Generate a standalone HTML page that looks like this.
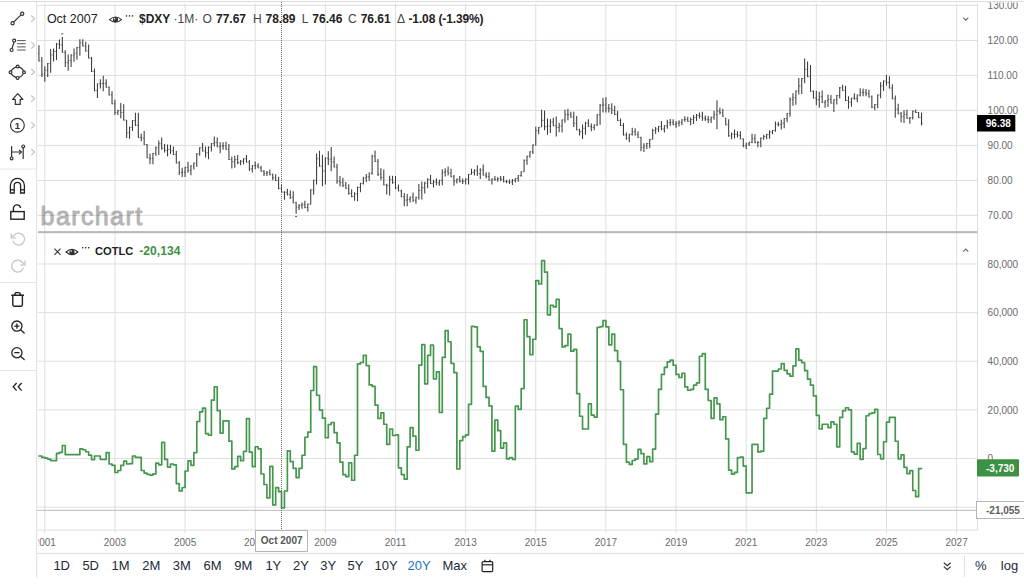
<!DOCTYPE html>
<html><head><meta charset="utf-8"><title>Chart</title>
<style>
html,body{margin:0;padding:0;background:#fff;}
body{width:1024px;height:588px;overflow:hidden;font-family:"Liberation Sans",sans-serif;}
svg{display:block;}
text{font-family:"Liberation Sans",sans-serif;}
</style></head><body>
<svg width="1024" height="588" viewBox="0 0 1024 588">
<rect width="1024" height="588" fill="#fff"/>
<g fill="none" stroke-width="1">
<line x1="0" y1="1.5" x2="1024" y2="1.5" stroke="#dcdcdc"/>
<line x1="44.8" y1="3" x2="44.8" y2="533.5" stroke="#dfdfdf"/>
<line x1="114.94" y1="3" x2="114.94" y2="533.5" stroke="#dfdfdf"/>
<line x1="185.08" y1="3" x2="185.08" y2="533.5" stroke="#dfdfdf"/>
<line x1="255.22" y1="3" x2="255.22" y2="533.5" stroke="#dfdfdf"/>
<line x1="325.36" y1="3" x2="325.36" y2="533.5" stroke="#dfdfdf"/>
<line x1="395.5" y1="3" x2="395.5" y2="533.5" stroke="#dfdfdf"/>
<line x1="465.64" y1="3" x2="465.64" y2="533.5" stroke="#dfdfdf"/>
<line x1="535.78" y1="3" x2="535.78" y2="533.5" stroke="#dfdfdf"/>
<line x1="605.92" y1="3" x2="605.92" y2="533.5" stroke="#dfdfdf"/>
<line x1="676.06" y1="3" x2="676.06" y2="533.5" stroke="#dfdfdf"/>
<line x1="746.2" y1="3" x2="746.2" y2="533.5" stroke="#dfdfdf"/>
<line x1="816.34" y1="3" x2="816.34" y2="533.5" stroke="#dfdfdf"/>
<line x1="886.48" y1="3" x2="886.48" y2="533.5" stroke="#dfdfdf"/>
<line x1="956.62" y1="3" x2="956.62" y2="533.5" stroke="#dfdfdf"/>
<line x1="37.5" y1="5.45" x2="977.5" y2="5.45" stroke="#dfdfdf" stroke-width="1"/>
<line x1="37.5" y1="40.45" x2="977.5" y2="40.45" stroke="#dfdfdf" stroke-width="1"/>
<line x1="37.5" y1="75.45" x2="977.5" y2="75.45" stroke="#dfdfdf" stroke-width="1"/>
<line x1="37.5" y1="110.45" x2="977.5" y2="110.45" stroke="#dfdfdf" stroke-width="1"/>
<line x1="37.5" y1="145.45" x2="977.5" y2="145.45" stroke="#dfdfdf" stroke-width="1"/>
<line x1="37.5" y1="180.45" x2="977.5" y2="180.45" stroke="#dfdfdf" stroke-width="1"/>
<line x1="37.5" y1="215.45" x2="977.5" y2="215.45" stroke="#dfdfdf" stroke-width="1"/>
<line x1="37.5" y1="263.96" x2="977.5" y2="263.96" stroke="#dfdfdf" stroke-width="1"/>
<line x1="37.5" y1="312.60" x2="977.5" y2="312.60" stroke="#dfdfdf" stroke-width="1"/>
<line x1="37.5" y1="361.23" x2="977.5" y2="361.23" stroke="#dfdfdf" stroke-width="1"/>
<line x1="37.5" y1="409.87" x2="977.5" y2="409.87" stroke="#dfdfdf" stroke-width="1"/>
<line x1="37.5" y1="458.50" x2="977.5" y2="458.50" stroke="#dfdfdf" stroke-width="1"/>
<line x1="37.5" y1="507.13" x2="977.5" y2="507.13" stroke="#dfdfdf" stroke-width="1"/>
<line x1="36.6" y1="1" x2="36.6" y2="578" stroke="#dfdfdf"/>
<line x1="977.5" y1="3" x2="977.5" y2="530.5" stroke="#dfdfdf"/>
<line x1="37" y1="530" x2="978" y2="530" stroke="#dfdfdf"/>
<line x1="37" y1="553.4" x2="1024" y2="553.4" stroke="#dedede"/>
</g>
<text x="40.6" y="224.9" font-size="25" fill="#000" stroke="#000" stroke-width="1.0" opacity="0.29" textLength="101.5" lengthAdjust="spacing">barchart</text>
<rect x="38" y="231.1" width="939.5" height="2.1" fill="#b8b8b8"/>
<path d="M37.85 53.32H38.95M38.95 60.92H40.05M40.78 60.92H41.88M41.88 74.05H42.98M43.70 74.05H44.80M44.80 70.09H45.90M46.62 70.09H47.72M47.72 63.58H48.82M49.54 63.58H50.64M50.64 54.91H51.74M52.47 54.91H53.57M53.57 51.47H54.67M55.39 51.47H56.49M56.49 44.26H57.59M58.31 44.26H59.41M59.41 44.90H60.51M61.23 44.90H62.33M62.33 52.37H63.43M64.16 52.37H65.26M65.26 62.63H66.36M67.08 62.63H68.18M68.18 60.53H69.28M70.00 60.53H71.10M71.10 55.10H72.20M72.92 55.10H74.02M74.02 53.26H75.12M75.85 53.26H76.95M76.95 47.52H78.05M78.77 47.52H79.87M79.87 42.86H80.97M81.69 42.86H82.79M82.79 45.99H83.89M84.62 45.99H85.72M85.72 51.10H86.81M87.54 51.10H88.64M88.64 58.11H89.74M90.46 58.11H91.56M91.56 71.51H92.66M93.38 71.51H94.48M94.48 90.64H95.58M96.31 90.64H97.41M97.41 83.98H98.50M99.23 83.98H100.33M100.33 83.50H101.43M102.15 83.50H103.25M103.25 83.50H104.35M105.07 83.50H106.17M106.17 87.26H107.27M108.00 87.26H109.09M109.09 94.91H110.19M110.92 94.91H112.02M112.02 103.75H113.12M113.84 103.75H114.94M114.94 112.41H116.04M116.76 112.41H117.86M117.86 110.71H118.96M119.69 110.71H120.78M120.78 112.41H121.88M122.61 112.41H123.71M123.71 120.08H124.81M125.53 120.08H126.63M126.63 132.82H127.73M128.45 132.82H129.55M129.55 127.37H130.65M131.38 127.37H132.47M132.47 120.57H133.57M134.30 120.57H135.40M135.40 125.34H136.50M137.22 125.34H138.32M138.32 137.43H139.42M140.14 137.43H141.24M141.24 138.10H142.34M143.06 138.10H144.16M144.16 144.57H145.26M145.99 144.57H147.09M147.09 157.83H148.19M148.91 157.83H150.01M150.01 158.59H151.11M151.83 158.59H152.93M152.93 153.39H154.03M154.75 153.39H155.85M155.85 147.70H156.95M157.68 147.70H158.78M158.78 143.71H159.88M160.60 143.71H161.70M161.70 148.13H162.80M163.52 148.13H164.62M164.62 150.34H165.72M166.44 150.34H167.54M167.54 149.40H168.64M169.37 149.40H170.47M170.47 150.68H171.57M172.29 150.68H173.39M173.39 154.43H174.49M175.21 154.43H176.31M176.31 162.94H177.41M178.14 162.94H179.24M179.24 172.36H180.34M181.06 172.36H182.16M182.16 171.94H183.26M183.98 171.94H185.08M185.08 167.34H186.18M186.90 167.34H188.00M188.00 170.24H189.10M189.83 170.24H190.93M190.93 165.99H192.03M192.75 165.99H193.85M193.85 163.09H194.95M195.67 163.09H196.77M196.77 153.73H197.87M198.59 153.73H199.69M199.69 147.78H200.79M201.52 147.78H202.62M202.62 151.03H203.72M204.44 151.03H205.54M205.54 152.81H206.64M207.36 152.81H208.46M208.46 147.28H209.56M210.28 147.28H211.38M211.38 143.53H212.48M213.21 143.53H214.31M214.31 142.43H215.41M216.13 142.43H217.23M217.23 146.78H218.33M219.05 146.78H220.15M220.15 146.00H221.25M221.97 146.00H223.07M223.07 145.75H224.17M224.90 145.75H226.00M226.00 149.33H227.09M227.82 149.33H228.92M228.92 159.53H230.02M230.74 159.53H231.84M231.84 161.73H232.94M233.66 161.73H234.76M234.76 159.61H235.86M236.59 159.61H237.69M237.69 162.59H238.78M239.51 162.59H240.61M240.61 161.31H241.71M242.43 161.31H243.53M243.53 158.83H244.63M245.35 158.83H246.45M246.45 162.09H247.55M248.28 162.09H249.38M249.38 168.79H250.47M251.20 168.79H252.30M252.30 165.47H253.40M254.12 165.47H255.22M255.22 165.82H256.32M257.04 165.82H258.14M258.14 167.87H259.24M259.96 167.87H261.06M261.06 171.27H262.17M262.89 171.27H263.99M263.99 173.47H265.09M265.81 173.47H266.91M266.91 172.36H268.01M268.73 172.36H269.83M269.83 174.67H270.93M271.65 174.67H272.75M272.75 177.72H273.86M274.58 177.72H275.68M275.68 180.62H276.78M277.50 180.62H278.60M278.60 188.44H279.70M280.42 188.44H281.52M281.52 192.19H282.62M283.34 192.19H284.44M284.44 192.18H285.55M286.27 192.18H287.37M287.37 194.73H288.47M289.19 194.73H290.29M290.29 197.28H291.39M292.11 197.28H293.21M293.21 202.73H294.31M295.03 202.73H296.13M296.13 207.06H297.24M297.96 207.06H299.06M299.06 205.53H300.16M300.88 205.53H301.98M301.98 204.51H303.08M303.80 204.51H304.90M304.90 207.48H306.00M306.72 207.48H307.82M307.82 204.07H308.93M309.65 204.07H310.75M310.75 189.79H311.85M312.57 189.79H313.67M313.67 180.26H314.77M315.49 180.26H316.59M316.59 158.76H317.69M318.41 158.76H319.51M319.51 166.17H320.62M321.34 166.17H322.44M322.44 170.92H323.54M324.26 170.92H325.36M325.36 158.16H326.46M327.18 158.16H328.28M328.28 159.18H329.38M330.10 159.18H331.20M331.20 161.99H332.31M333.03 161.99H334.13M334.13 167.02H335.23M335.95 167.02H337.05M337.05 181.29H338.15M338.87 181.29H339.97M339.97 182.40H341.07M341.79 182.40H342.89M342.89 185.37H344.00M344.72 185.37H345.82M345.82 188.28H346.92M347.64 188.28H348.74M348.74 193.28H349.84M350.56 193.28H351.66M351.66 196.43H352.76M353.48 196.43H354.58M354.58 193.88H355.69M356.41 193.88H357.51M357.51 187.50H358.61M359.33 187.50H360.43M360.43 183.32H361.53M362.25 183.32H363.35M363.35 177.98H364.45M365.17 177.98H366.27M366.27 176.70H367.38M368.10 176.70H369.20M369.20 173.12H370.30M371.02 173.12H372.12M372.12 156.29H373.22M373.94 156.29H375.04M375.04 161.57H376.14M376.86 161.57H377.96M377.96 174.32H379.06M379.79 174.32H380.89M380.89 177.47H381.99M382.71 177.47H383.81M383.81 184.87H384.91M385.63 184.87H386.73M386.73 185.63H387.83M388.55 185.63H389.65M389.65 179.68H390.75M391.48 179.68H392.58M392.58 182.65H393.68M394.40 182.65H395.50M395.50 187.93H396.60M397.32 187.93H398.42M398.42 190.83H399.52M400.24 190.83H401.34M401.34 196.78H402.44M403.17 196.78H404.27M404.27 200.09H405.37M406.09 200.09H407.19M407.19 199.40H408.29M409.01 199.40H410.11M410.11 197.26H411.21M411.93 197.26H413.03M413.03 200.24H414.13M414.86 200.24H415.96M415.96 197.34H417.06M417.78 197.34H418.88M418.88 190.46H419.98M420.70 190.46H421.80M421.80 187.65H422.90M423.62 187.65H424.73M424.73 183.23H425.83M426.55 183.23H427.65M427.65 179.40H428.75M429.47 179.40H430.57M430.57 183.58H431.67M432.39 183.58H433.49M433.49 181.87H434.59M435.31 181.87H436.42M436.42 182.81H437.52M438.24 182.81H439.34M439.34 180.33H440.44M441.16 180.33H442.26M442.26 172.35H443.36M444.08 172.35H445.18M445.18 171.07H446.28M447.00 171.07H448.11M448.11 173.03H449.21M449.93 173.03H451.03M451.03 176.78H452.13M452.85 176.78H453.95M453.95 181.02H455.05M455.77 181.02H456.87M456.87 179.23H457.97M458.69 179.23H459.80M459.80 181.28H460.90M461.62 181.28H462.72M462.72 181.36H463.82M464.54 181.36H465.64M465.64 179.23H466.74M467.46 179.23H468.56M468.56 174.38H469.66M470.38 174.38H471.49M471.49 172.43H472.59M473.31 172.43H474.41M474.41 170.73H475.51M476.23 170.73H477.33M477.33 173.62H478.43M479.15 173.62H480.25M480.25 170.05H481.35M482.07 170.05H483.18M483.18 175.08H484.28M485.00 175.08H486.10M486.10 176.43H487.20M487.92 176.43H489.02M489.02 180.18H490.12M490.84 180.18H491.94M491.94 178.97H493.04M493.76 178.97H494.87M494.87 179.57H495.97M496.69 179.57H497.79M497.79 178.64H498.89M499.61 178.64H500.71M500.71 179.23H501.81M502.53 179.23H503.63M503.63 181.53H504.73M505.45 181.53H506.56M506.56 181.79H507.66M508.38 181.79H509.48M509.48 181.96H510.58M511.30 181.96H512.40M512.40 180.26H513.50M514.22 180.26H515.32M515.32 178.63H516.42M517.14 178.63H518.25M518.25 175.57H519.35M520.07 175.57H521.17M521.17 171.83H522.27M522.99 171.67H524.09M524.09 160.27H525.19M525.91 160.27H527.01M527.01 156.18H528.11M528.83 156.18H529.93M529.93 151.76H531.03M531.76 151.76H532.86M532.86 144.96H533.96M534.68 144.96H535.78M535.78 130.68H536.88M537.60 130.68H538.70M538.70 127.61H539.80M540.52 127.11H541.62M541.62 120.31H542.73M543.45 120.31H544.55M544.55 126.68H545.65M546.37 126.68H547.47M547.47 126.00H548.57M549.29 126.00H550.39M550.39 122.01H551.49M552.21 122.01H553.31M553.31 125.76H554.41M555.14 125.76H556.24M556.24 127.53H557.34M558.06 127.53H559.16M559.16 126.00H560.26M560.98 126.00H562.08M562.08 119.96H563.18M563.90 119.96H565.00M565.00 114.52H566.10M566.83 114.52H567.93M567.93 114.64H569.03M569.75 114.64H570.85M570.85 117.12H571.95M572.67 117.12H573.77M573.77 123.15H574.87M575.59 123.15H576.69M576.69 129.87H577.79M578.52 129.87H579.62M579.62 131.65H580.72M581.44 131.65H582.54M582.54 128.25H583.64M584.36 128.25H585.46M585.46 123.15H586.56M587.28 123.15H588.38M588.38 126.47H589.48M590.21 126.47H591.31M591.31 127.40H592.41M593.13 127.40H594.23M594.23 124.92H595.33M596.05 124.92H597.15M597.15 114.72H598.25M598.97 114.72H600.07M600.07 105.29H601.17M601.90 105.29H603.00M603.00 104.86H604.10M604.82 104.86H605.92M605.92 108.27H607.02M607.74 108.27H608.84M608.84 108.52H609.94M610.66 108.52H611.76M611.76 110.39H612.87M613.59 110.39H614.69M614.69 114.57H615.79M616.51 114.57H617.61M617.61 120.52H618.71M619.43 120.52H620.53M620.53 125.62H621.63M622.35 125.62H623.45M623.45 134.98H624.55M625.28 134.98H626.38M626.38 138.03H627.48M628.20 138.03H629.30M629.30 134.28H630.40M631.12 134.28H632.22M632.22 131.82H633.32M634.04 131.82H635.14M635.14 134.63H636.25M636.97 134.63H638.07M638.07 137.53H639.17M639.89 137.53H640.99M640.99 147.55H642.09M642.81 147.55H643.91M643.91 145.94H645.01M645.73 145.94H646.83M646.83 143.55H647.93M648.66 143.55H649.76M649.76 139.38H650.86M651.58 139.38H652.68M652.68 130.37H653.78M654.50 130.37H655.60M655.60 129.10H656.70M657.42 129.10H658.52M658.52 126.62H659.62M660.35 126.62H661.45M661.45 128.93H662.55M663.27 128.93H664.37M664.37 125.77H665.47M666.19 125.77H667.29M667.29 122.55H668.39M669.11 122.55H670.21M670.21 122.30H671.31M672.04 122.30H673.14M673.14 124.42H674.24M674.96 124.42H676.06M676.06 123.32H677.16M677.88 123.32H678.98M678.98 122.30H680.08M680.80 122.30H681.90M681.90 119.82H683.00M683.73 119.82H684.83M684.83 119.32H685.93M686.65 119.32H687.75M687.75 121.37H688.85M689.57 121.37H690.67M690.67 119.57H691.77M692.49 119.57H693.59M693.59 117.45H694.69M695.42 117.45H696.52M696.52 115.49H697.62M698.34 115.49H699.44M699.44 116.17H700.54M701.26 116.17H702.36M702.36 118.30H703.46M704.18 118.30H705.28M705.28 119.49H706.38M707.11 119.49H708.21M708.21 119.91H709.31M710.03 119.91H711.13M711.13 117.27H712.23M712.95 117.27H714.05M714.05 114.73H715.15M715.87 114.73H716.97M716.97 111.16H718.07M718.80 111.16H719.90M719.90 112.77H721.00M721.72 112.77H722.82M722.82 116.27H723.92M724.64 117.96H725.74M725.74 124.77H726.84M727.56 124.77H728.66M728.66 135.88H729.76M730.49 135.88H731.59M731.59 134.01H732.69M733.41 134.01H734.51M734.51 134.44H735.61M736.33 134.44H737.43M737.43 135.29H738.53M739.25 135.29H740.35M740.35 138.79H741.45M742.18 138.79H743.28M743.28 145.83H744.38M745.10 145.83H746.20M746.20 143.96H747.30M748.02 143.96H749.12M749.12 142.34H750.22M750.94 142.34H752.04M752.04 138.69H753.14M753.87 138.69H754.97M754.97 142.70H756.07M756.79 142.70H757.89M757.89 142.43H758.99M759.71 142.43H760.81M760.81 138.09H761.91M762.63 138.09H763.73M763.73 136.48H764.83M765.56 136.48H766.66M766.66 134.52H767.76M768.48 134.52H769.58M769.58 132.06H770.68M771.40 132.06H772.50M772.50 130.43H773.60M774.32 130.43H775.42M775.42 124.15H776.52M777.25 124.15H778.35M778.35 124.66H779.45M780.17 124.66H781.27M781.27 123.13H782.37M783.09 123.13H784.19M784.19 118.53H785.29M786.01 118.53H787.11M787.11 113.43H788.21M788.94 113.43H790.04M790.04 99.57H791.14M791.86 99.57H792.96M792.96 97.62H794.06M794.78 97.62H795.88M795.88 90.98H796.98M797.70 90.98H798.80M798.80 85.97H799.90M800.63 85.97H801.73M801.73 78.56H802.83M803.55 78.56H804.65M804.65 69.39H805.75M806.47 69.39H807.57M807.57 76.71H808.67M809.39 76.71H810.49M810.49 91.17H811.59M812.32 91.17H813.42M813.42 97.97H814.52M815.24 97.97H816.34M816.34 99.74H817.44M818.16 99.74H819.26M819.26 96.77H820.36M821.08 96.77H822.18M822.18 102.56H823.28M824.01 102.56H825.11M825.11 100.77H826.21M826.93 100.77H828.03M828.03 99.32H829.13M829.85 99.32H830.95M830.95 103.07H832.05M832.77 103.07H833.87M833.87 99.82H834.97M835.70 99.82H836.80M836.80 95.57H837.90M838.62 95.57H839.72M839.72 87.84H840.82M841.54 87.84H842.64M842.64 90.32H843.74M844.46 90.32H845.56M845.56 100.52H846.66M847.39 100.52H848.49M848.49 102.18H849.59M850.31 102.18H851.41M851.41 98.21H852.51M853.23 98.21H854.33M854.33 98.35H855.43M856.15 98.35H857.25M857.25 95.03H858.35M859.08 95.03H860.18M860.18 92.36H861.28M862.00 92.36H863.10M863.10 92.61H864.20M864.92 92.61H866.02M866.02 93.63H867.12M867.84 93.63H868.94M868.94 96.96H870.04M870.77 96.96H871.87M871.87 107.15H872.97M873.69 107.15H874.79M874.79 104.59H875.89M876.61 104.59H877.71M877.71 95.03H878.81M879.53 95.03H880.63M880.63 85.79H881.73M882.46 85.79H883.56M883.56 80.99H884.66M885.38 80.99H886.48M886.48 82.41H887.58M888.30 82.41H889.40M889.40 88.03H890.50M891.22 88.03H892.32M892.32 98.74H893.42M894.15 98.74H895.25M895.25 109.07H896.35M897.07 109.07H898.17M898.17 113.80H899.27M899.99 113.80H901.09M901.09 116.59H902.19M902.91 116.59H904.01M904.01 114.30H905.11M905.84 114.30H906.94M906.94 118.26H908.04M908.76 118.26H909.86M909.86 117.60H910.96M911.68 117.60H912.78M912.78 111.23H913.88M914.60 111.23H915.70M915.70 112.52H916.80M917.53 112.52H918.63M918.63 117.62H919.73M920.45 117.62H921.55M921.55 123.40H922.65" stroke="#777" stroke-width="1" fill="none"/>
<path d="M38.95 45.22V61.42M41.88 57.08V77.11M44.80 66.27V81.83M47.72 63.08V77.11M50.64 49.05V72.64M53.57 48.41V61.42M56.49 43.05V59.89M59.41 39.48V49.05M62.33 36.93V52.87M65.26 50.32V66.90M68.18 54.53V70.73M71.10 54.15V66.90M74.02 48.41V61.80M76.95 46.88V59.63M79.87 39.22V55.81M82.79 39.22V46.49M85.72 41.78V51.60M88.64 44.58V58.61M91.56 57.08V72.01M94.48 68.56V91.14M97.41 83.48V97.90M100.33 79.25V88.61M103.25 75.85V91.16M106.17 79.25V87.76M109.09 86.56V95.41M112.02 91.16V104.25M114.94 99.66V114.97M117.86 109.86V114.97M120.78 103.06V118.37M123.71 104.25V120.58M126.63 120.07V137.93M129.55 126.87V138.78M132.47 120.07V131.12M135.40 112.76V126.02M138.32 112.76V137.93M141.24 133.67V141.33M144.16 131.12V145.07M147.09 143.88V158.33M150.01 153.57V164.29M152.93 152.89V164.29M155.85 146.43V155.78M158.78 140.48V154.93M161.70 137.59V149.83M164.62 143.88V152.38M167.54 144.39V156.29M170.47 144.73V154.08M173.39 146.43V154.93M176.31 150.68V163.44M179.24 160.88V175.00M182.16 167.69V177.04M185.08 166.84V177.04M188.00 161.73V172.79M190.93 165.14V175.34M193.85 162.59V169.39M196.77 153.23V166.84M199.69 147.28V155.78M202.62 143.03V151.53M205.54 146.43V157.48M208.46 146.43V159.18M211.38 143.03V151.53M214.31 136.56V146.43M217.23 137.59V147.28M220.15 142.18V153.23M223.07 142.18V149.83M226.00 141.67V149.83M228.92 143.88V160.03M231.84 156.63V168.54M234.76 155.78V167.69M237.69 154.93V164.29M240.61 160.03V165.14M243.53 158.33V164.29M246.45 154.93V162.59M249.38 160.03V171.09M252.30 164.97V172.62M255.22 161.56V169.22M258.14 163.27V168.37M261.06 165.82V171.77M263.99 170.07V176.02M266.91 170.92V176.02M269.83 169.56V175.17M272.75 173.47V180.27M275.68 174.32V181.12M278.60 176.87V189.29M281.52 184.18V192.69M284.44 191.33V199.83M287.37 188.78V195.58M290.29 190.48V198.98M293.21 191.33V203.23M296.13 201.87V213.78M299.06 204.08V210.03M301.98 202.38V208.67M304.90 200.68V208.33M307.82 203.57V211.39M310.75 189.29V204.59M313.67 179.76V194.73M316.59 153.57V184.52M319.51 150.85V166.67M322.44 154.76V186.22M325.36 157.31V184.52M328.28 151.36V164.97M331.20 147.11V171.26M334.13 156.46V167.52M337.05 163.78V183.67M339.97 176.02V186.56M342.89 177.72V187.07M345.82 181.97V188.78M348.74 184.18V194.73M351.66 189.29V197.28M354.58 192.18V200.68M357.51 186.56V201.19M360.43 182.82V192.18M363.35 176.87V184.52M366.27 173.98V181.97M369.20 172.62V180.78M372.12 154.76V174.66M375.04 150.51V162.07M377.96 159.01V176.02M380.89 168.37V180.27M383.81 169.56V185.37M386.73 183.67V194.39M389.65 175.68V195.58M392.58 175.68V183.67M395.50 176.02V189.29M398.42 184.52V191.33M401.34 189.63V197.28M404.27 193.03V206.29M407.19 193.88V206.29M410.11 196.43V202.38M413.03 192.59V201.94M415.96 196.84V203.64M418.88 184.08V199.39M421.80 181.53V199.39M424.73 181.87V193.44M427.65 178.13V188.33M430.57 174.73V184.08M433.49 179.83V187.48M436.42 178.47V185.27M439.34 179.83V185.78M442.26 169.29V185.27M445.18 168.27V176.43M448.11 166.56V175.58M451.03 168.78V177.28M453.95 175.07V185.78M456.87 178.47V183.57M459.80 176.09V182.38M462.72 178.47V184.08M465.64 178.13V184.59M468.56 173.88V184.59M471.49 168.78V174.73M474.41 169.29V175.58M477.33 165.37V176.09M480.25 168.27V178.98M483.18 164.52V175.58M486.10 172.18V178.13M489.02 172.18V180.68M491.94 178.47V184.59M494.87 176.09V180.68M497.79 177.28V181.87M500.71 176.09V181.19M503.63 176.09V182.38M506.56 179.83V183.23M509.48 179.49V184.08M512.40 178.98V184.93M515.32 178.13V182.38M518.25 175.07V181.87M521.17 171.33V176.77M524.09 159.42V171.67M527.01 155.68V164.86M529.93 151.26V157.72M532.86 144.46V153.98M535.78 126.77V145.48M538.70 127.11V134.25M541.62 109.76V127.11M544.55 110.44V130.17M547.47 118.61V134.76M550.39 118.95V133.06M553.31 117.76V126.26M556.24 116.56V136.46M559.16 122.86V132.21M562.08 119.46V132.55M565.00 109.76V122.86M567.93 108.74V120.31M570.85 111.67V117.62M573.77 111.67V126.97M576.69 115.92V130.37M579.62 128.67V135.48M582.54 124.42V138.88M585.46 121.87V134.63M588.38 119.32V126.97M591.31 123.57V131.22M594.23 124.42V130.37M597.15 114.22V126.12M600.07 104.01V124.76M603.00 98.06V112.52M605.92 97.21V112.52M608.84 104.01V112.52M611.76 103.16V113.88M614.69 105.71V115.07M617.61 110.82V121.02M620.53 118.47V126.12M623.45 123.06V135.48M626.38 132.59V139.73M629.30 133.78V142.28M632.22 127.82V135.48M635.14 128.16V135.48M638.07 131.22V138.03M640.99 136.67V151.29M643.91 143.13V151.97M646.83 142.79V149.08M649.76 138.88V148.23M652.68 128.67V139.39M655.60 126.97V133.78M658.52 126.12V132.07M661.45 121.02V130.37M664.37 125.27V132.59M667.29 119.66V128.67M670.21 118.98V126.12M673.14 119.32V125.27M676.06 121.02V127.82M678.98 120.17V126.46M681.90 119.32V125.27M684.83 116.26V121.87M687.75 116.77V121.87M690.67 117.62V125.27M693.59 115.07V124.08M696.52 113.88V121.02M699.44 112.52V118.47M702.36 111.67V120.68M705.28 115.58V121.02M708.21 115.92V123.06M711.13 116.77V123.06M714.05 110.82V119.66M716.97 100.27V129.18M719.90 107.76V114.56M722.82 108.78V116.77M725.74 117.96V125.27M728.66 119.32V136.67M731.59 132.48V139.29M734.51 129.59V138.44M737.43 131.29V137.59M740.35 131.29V139.29M743.28 138.44V147.28M746.20 142.69V148.98M749.12 141.84V146.09M752.04 133.67V143.20M754.97 134.18V143.20M757.89 140.99V147.28M760.81 137.59V147.28M763.73 134.69V139.80M766.66 133.67V139.29M769.58 130.27V138.78M772.50 129.93V134.18M775.42 121.43V131.63M778.35 121.77V126.53M781.27 119.73V129.59M784.19 118.03V128.23M787.11 112.93V122.28M790.04 97.28V116.67M792.96 93.37V105.78M795.88 90.48V104.76M798.80 78.06V94.56M801.73 78.06V93.88M804.65 58.50V83.16M807.57 61.56V77.21M810.49 64.97V91.67M813.42 90.48V98.47M816.34 90.82V105.27M819.26 91.67V107.82M822.18 90.48V103.06M825.11 100.17V107.82M828.03 94.56V106.97M830.95 95.07V103.57M833.87 99.32V112.07M836.80 95.07V104.42M839.72 87.07V98.47M842.64 84.86V90.82M845.56 85.71V101.02M848.49 96.26V108.67M851.41 97.71V106.64M854.33 93.25V99.63M857.25 94.53V102.18M860.18 88.15V96.44M863.10 88.53V96.18M866.02 89.04V96.18M868.94 89.81V97.46M871.87 95.42V108.17M874.79 104.09V110.21M877.71 94.53V108.17M880.63 82.15V98.35M883.56 80.49V91.08M886.48 75.01V85.60M889.40 76.29V88.53M892.32 84.32V99.24M895.25 95.42V117.87M898.17 103.84V114.30M901.09 112.00V122.20M904.01 110.21V122.97M906.94 109.83V118.76M909.86 117.10V123.86M912.78 110.47V119.40M915.70 109.45V113.02M918.63 112.00V118.12M921.55 112.38V125.52" stroke="#3a3a3a" stroke-width="1.05" fill="none"/>
<line x1="61.3" y1="33.8" x2="63.3" y2="33.8" stroke="#555" stroke-width="1"/>
<line x1="295.1" y1="216.6" x2="297.1" y2="216.6" stroke="#555" stroke-width="1"/>
<path d="M38.95 456.02H41.88V457.38H44.80V458.06H47.72V459.08H50.64V460.61H53.57V460.61H56.49V453.47H59.41V452.28H62.33V445.48H65.26V454.66H68.18V454.66H71.10V454.66H74.02V454.66H76.95V454.66H79.87V448.88H82.79V449.73H85.72V451.77H88.64V455.17H91.56V459.76H94.48V456.02H97.41V456.02H100.33V459.42H103.25V459.42H106.17V452.62H109.09V464.01H112.02V465.37H114.94V472.52H117.86V470.48H120.78V465.37H123.71V461.12H126.63V464.01H129.55V463.67H132.47V456.02H135.40V457.38H138.32V457.38H141.24V470.48H144.16V473.03H147.09V474.39H150.01V475.07H152.93V473.88H155.85V463.16H158.78V464.86H161.70V442.41H164.62V459.42H167.54V467.07H170.47V464.01H173.39V464.86H176.31V483.57H179.24V490.88H182.16V487.48H185.08V470.99H188.00V460.78H190.93V465.37H193.85V452.62H196.77V421.50H199.69V411.80H202.62V408.06H205.54V433.57H208.46V435.27H211.38V400.20H214.31V386.77H217.23V410.58H220.15V433.03H223.07V420.78H226.00V420.78H228.92V441.16H231.84V468.88H234.76V466.67H237.69V456.46H240.61V460.71H243.53V451.36H246.45V418.57H249.38V452.21H252.30V466.67H255.22V446.77H258.14V448.81H261.06V473.98H263.99V484.52H266.91V497.79H269.83V466.33H272.75V504.93H275.68V487.59H278.60V491.67H281.52V507.99H284.44V490.99H287.37V450.85H290.29V461.56H293.21V468.37H296.13V477.72H299.06V468.37H301.98V455.27H304.90V437.24H307.82V432.14H310.75V390.51H313.67V366.70H316.59V395.27H319.51V410.07H322.44V418.06H325.36V437.76H328.28V424.52H331.20V422.48H334.13V432.65H337.05V442.86H339.97V462.07H342.89V474.66H345.82V476.53H348.74V462.76H351.66V480.27H354.58V455.27H357.51V363.88H360.43V362.52H363.35V355.37H366.27V365.58H369.20V384.97H372.12V386.33H375.04V405.03H377.96V418.47H380.89V412.86H383.81V424.25H386.73V444.32H389.65V429.01H392.58V435.48H395.50V434.97H398.42V467.79H401.34V474.59H404.27V479.18H407.19V446.87H410.11V427.65H413.03V436.16H415.96V450.27H418.88V365.07H421.80V344.66H424.73V383.78H427.65V355.37H430.57V345.00H433.49V379.01H436.42V371.87H439.34V412.52H442.26V357.41H445.18V330.71H448.11V341.77H451.03V363.37H453.95V372.72H456.87V468.98H459.80V440.58H462.72V436.67H465.64V434.97H468.56V404.35H471.49V326.46H474.41V326.80H477.33V346.87H480.25V351.46H483.18V386.33H486.10V397.38H489.02V405.88H491.94V451.12H494.87V420.17H497.79V430.71H500.71V448.06H503.63V442.96H506.56V458.78H509.48V457.59H512.40V459.29H515.32V406.05H518.25V409.46H521.17V388.57H524.09V319.73H527.01V336.70H529.93V354.56H532.86V339.25H535.78V280.61H538.70V284.01H541.62V260.54H544.55V272.11H547.47V314.97H550.39V305.27H553.31V306.97H556.24V299.32H559.16V328.57H562.08V346.90H565.00V345.54H567.93V334.15H570.85V351.16H573.77V349.46H576.69V393.67H579.62V416.26H582.54V429.01H585.46V429.01H588.38V403.84H591.31V415.07H594.23V417.11H597.15V327.38H600.07V326.53H603.00V320.58H605.92V326.87H608.84V344.86H611.76V334.18H614.69V350.65H617.61V361.36H620.53V389.76H623.45V444.32H626.38V462.18H629.30V464.39H632.22V460.48H635.14V458.78H638.07V449.42H640.99V453.67H643.91V463.88H646.83V456.56H649.76V461.67H652.68V449.08H655.60V414.05H658.52V389.42H661.45V374.46H664.37V367.31H667.29V361.87H670.21V360.17H673.14V365.27H676.06V374.46H678.98V377.52H681.90V373.27H684.83V386.87H687.75V390.27H690.67V389.42H693.59V385.17H696.52V382.96H699.44V356.26H702.36V353.71H705.28V389.42H708.21V400.48H711.13V418.47H714.05V397.93H716.97V403.88H719.90V419.66H722.82V416.77H725.74V438.88H728.66V470.17H731.59V474.08H734.51V472.38H737.43V457.59H740.35V457.07H743.28V466.09H746.20V492.79H749.12V492.79H752.04V444.32H754.97V444.32H757.89V451.97H760.81V451.12H763.73V418.47H766.66V408.27H769.58V394.18H772.50V371.05H775.42V371.05H778.35V369.01H781.27V363.57H784.19V370.37H787.11V373.78H790.04V376.16H792.96V365.95H795.88V348.95H798.80V360.17H801.73V362.55H804.65V370.71H807.57V379.22H810.49V385.17H813.42V395.88H816.34V415.41H819.26V429.01H822.18V424.25H825.11V424.25H828.03V427.65H830.95V421.87H833.87V424.25H836.80V446.87H839.72V417.45H842.64V410.65H845.56V407.76H848.49V409.97H851.41V451.97H854.33V454.18H857.25V443.47H860.18V459.29H863.10V448.57H866.02V415.75H868.94V413.71H871.87V412.86H874.79V409.46H877.71V454.52H880.63V458.78H883.56V441.77H886.48V422.21H889.40V417.45H892.32V417.45H895.25V441.26H898.17V458.78H901.09V454.86H904.01V467.28H906.94V473.57H909.86V470.68H912.78V490.51H915.70V496.63H918.63V468.57H921.55" stroke="#46974e" stroke-width="1.7" fill="none" stroke-linejoin="round" stroke-linecap="round"/>
<line x1="281.5" y1="2" x2="281.5" y2="531" stroke="#666" stroke-width="1" stroke-dasharray="1 1"/>
<line x1="37.5" y1="510.3" x2="977.5" y2="510.3" stroke="#777" stroke-width="1" stroke-dasharray="1 1"/>
<clipPath id="ct"><rect x="978" y="2.6" width="46" height="240"/></clipPath>
<g font-size="10" fill="#6b6b6b" clip-path="url(#ct)">
<text x="987.6" y="9.1">130.00</text>
<text x="987.6" y="44.1">120.00</text>
<text x="987.6" y="79.0">110.00</text>
<text x="987.6" y="114.0">100.00</text>
<text x="987.6" y="149.0">90.00</text>
<text x="987.6" y="184.0">80.00</text>
<text x="987.6" y="219.0">70.00</text>
</g><g font-size="10" fill="#6b6b6b">
<text x="987.6" y="267.6">80,000</text>
<text x="987.6" y="316.2">60,000</text>
<text x="987.6" y="364.8">40,000</text>
<text x="987.6" y="413.5">20,000</text>
<text x="987.6" y="462.1">0</text>
</g>
<rect x="977" y="115" width="38.3" height="16.5" fill="#000"/>
<text x="985.8" y="126.8" font-size="10" font-weight="bold" fill="#fff">96.38</text>
<rect x="977" y="459.2" width="42" height="17.3" rx="1" fill="#3d9144"/>
<text x="986" y="471.5" font-size="10" font-weight="bold" fill="#fff">-3,730</text>
<rect x="976.5" y="501.5" width="50" height="17" fill="#fff" stroke="#b5b5b5" stroke-width="1"/>
<text x="986" y="513.8" font-size="10" font-weight="bold" fill="#5e5e5e">-21,055</text>
<g font-size="10" fill="#6b6b6b" text-anchor="middle">
<clipPath id="cx"><rect x="38.5" y="530" width="217" height="22"/></clipPath>
<text x="44.8" y="545.6" clip-path="url(#cx)">2001</text>
<text x="114.9" y="545.6">2003</text>
<text x="185.1" y="545.6">2005</text>
<text x="255.2" y="545.6" clip-path="url(#cx)">2007</text>
<text x="325.4" y="545.6">2009</text>
<text x="395.5" y="545.6">2011</text>
<text x="465.6" y="545.6">2013</text>
<text x="535.8" y="545.6">2015</text>
<text x="605.9" y="545.6">2017</text>
<text x="676.1" y="545.6">2019</text>
<text x="746.2" y="545.6">2021</text>
<text x="816.3" y="545.6">2023</text>
<text x="886.5" y="545.6">2025</text>
<text x="956.6" y="545.6">2027</text>
</g>
<rect x="255.5" y="530.5" width="52" height="21" fill="#fff" stroke="#b5b5b5" stroke-width="1"/>
<text x="281.7" y="543.8" font-size="10" font-weight="bold" fill="#555" text-anchor="middle">Oct 2007</text>
<g font-size="12" fill="#222">
<text x="46.9" y="22.8" font-size="12.5">Oct 2007</text>
<text x="139" y="22.8" font-weight="bold">$DXY</text>
<text x="173.5" y="22.8" fill="#444">·1M·</text>
<text x="202.5" y="22.8" fill="#444">O</text><text x="216" y="22.8" font-weight="bold">77.67</text>
<text x="253" y="22.8" fill="#444">H</text><text x="265.5" y="22.8" font-weight="bold">78.89</text>
<text x="301.8" y="22.8" fill="#444">L</text><text x="312.3" y="22.8" font-weight="bold">76.46</text>
<text x="348" y="22.8" fill="#444">C</text><text x="360.7" y="22.8" font-weight="bold">76.61</text>
<text x="397" y="22.8" fill="#444">Δ</text><text x="408.5" y="22.8" font-weight="bold" textLength="75" lengthAdjust="spacing">-1.08 (-1.39%)</text>
<text x="95" y="254.6" font-weight="bold" font-size="11.6" textLength="38.4" lengthAdjust="spacingAndGlyphs">COTLC</text>
<text x="139.2" y="254.6" font-weight="bold" fill="#3d9144" textLength="41.3" lengthAdjust="spacing">-20,134</text>
</g>
<g transform="translate(115.5,19.6)"><path d="M-6 0Q0 -5.2 6 0Q0 5.2 -6 0Z" fill="none" stroke="#333" stroke-width="1.1"/><circle cx="0" cy="0" r="2.6" fill="#333"/><circle cx="-0.9" cy="-0.9" r="0.8" fill="#fff"/></g>
<g transform="translate(72,252)"><path d="M-6 0Q0 -5.2 6 0Q0 5.2 -6 0Z" fill="none" stroke="#333" stroke-width="1.1"/><circle cx="0" cy="0" r="2.6" fill="#333"/><circle cx="-0.9" cy="-0.9" r="0.8" fill="#fff"/></g>
<rect x="125.8" y="15.2" width="1.4" height="1.4" fill="#333"/>
<rect x="128.8" y="15.2" width="1.4" height="1.4" fill="#333"/>
<rect x="131.8" y="15.2" width="1.4" height="1.4" fill="#333"/>
<rect x="82.0" y="247" width="1.4" height="1.4" fill="#333"/>
<rect x="85.0" y="247" width="1.4" height="1.4" fill="#333"/>
<rect x="88.0" y="247" width="1.4" height="1.4" fill="#333"/>
<path d="M54.5 248.7L60.5 254.9M60.5 248.7L54.5 254.9" stroke="#333" stroke-width="1.1" fill="none"/>
<path d="M963.3 17.6L965.8 20.1L968.3 17.6" stroke="#666" stroke-width="1.1" fill="none"/>
<path d="M963.3 251.6L965.8 249.1L968.3 251.6" stroke="#666" stroke-width="1.1" fill="none"/>
<g font-size="13" fill="#1e2a3a">
<text x="53.4" y="570.3">1D</text>
<text x="82.4" y="570.3">5D</text>
<text x="111.6" y="570.3">1M</text>
<text x="142.2" y="570.3">2M</text>
<text x="172.8" y="570.3">3M</text>
<text x="203.6" y="570.3">6M</text>
<text x="234.2" y="570.3">9M</text>
<text x="265.4" y="570.3">1Y</text>
<text x="293" y="570.3">2Y</text>
<text x="320.2" y="570.3">3Y</text>
<text x="347.6" y="570.3">5Y</text>
<text x="374.6" y="570.3">10Y</text>
<text x="442.4" y="570.3">Max</text>
<text x="407.6" y="570.3" fill="#1a72c4">20Y</text>
<text x="975" y="570.3">%</text><text x="1000.8" y="570.3">log</text>
</g>
<g stroke="#222" stroke-width="1.2" fill="none"><rect x="482.1" y="561.6" width="10.6" height="10" rx="1"/><line x1="482.1" y1="564.8" x2="492.7" y2="564.8"/><line x1="484.9" y1="559.8" x2="484.9" y2="562"/><line x1="489.9" y1="559.8" x2="489.9" y2="562"/></g>
<path d="M943.8 562.8L947.2 565.8L950.6 562.8M943.8 566.6L947.2 569.6L950.6 566.6" stroke="#333" stroke-width="1.2" fill="none"/>
<line x1="964.5" y1="555.5" x2="964.5" y2="577" stroke="#e0e0e0" stroke-width="1"/>
<g stroke="#e3e3e3" stroke-width="1"><line x1="0" y1="169" x2="36" y2="169"/><line x1="0" y1="282.5" x2="36" y2="282.5"/><line x1="0" y1="370.5" x2="36" y2="370.5"/></g>
<path d="M31.3 15.5L34.5 18.7L31.3 21.9" stroke="#bdbdbd" stroke-width="1.1" fill="none"/>
<path d="M31.3 42.199999999999996L34.5 45.4L31.3 48.6" stroke="#bdbdbd" stroke-width="1.1" fill="none"/>
<path d="M31.3 68.8L34.5 72L31.3 75.2" stroke="#bdbdbd" stroke-width="1.1" fill="none"/>
<path d="M31.3 95.5L34.5 98.7L31.3 101.9" stroke="#bdbdbd" stroke-width="1.1" fill="none"/>
<path d="M31.3 122.1L34.5 125.3L31.3 128.5" stroke="#bdbdbd" stroke-width="1.1" fill="none"/>
<path d="M31.3 148.8L34.5 152L31.3 155.2" stroke="#bdbdbd" stroke-width="1.1" fill="none"/>
<g stroke="#333" stroke-width="1.2" fill="none" stroke-linecap="round" stroke-linejoin="round"><line x1="13.6" y1="22.2" x2="21" y2="14.8"/><circle cx="12.6" cy="23.3" r="1.6" fill="#fff"/><circle cx="22.2" cy="13.8" r="1.6" fill="#fff"/></g>
<g stroke="#333" stroke-width="1.2" fill="none" stroke-linecap="round" stroke-linejoin="round"><line x1="12" y1="48.6" x2="14" y2="42"/><circle cx="11.6" cy="50" r="1.5" fill="#fff"/><circle cx="14.2" cy="40.6" r="1.5" fill="#fff"/><g stroke="#555" stroke-width="1"><line x1="17.5" y1="40.6" x2="25.3" y2="40.6"/><line x1="17.5" y1="43.7" x2="25.3" y2="43.7"/><line x1="17.5" y1="46.9" x2="25.3" y2="46.9"/><line x1="17.5" y1="50" x2="25.3" y2="50"/></g></g>
<g stroke="#333" stroke-width="1.2" fill="none" stroke-linecap="round" stroke-linejoin="round"><path d="M10.6 72.2Q12.6 67.6 17.6 66.6Q22.6 67.6 24 72.2Q22.6 76.8 17.6 77.8Q12.6 76.8 10.6 72.2Z"/><circle cx="10.5" cy="72.2" r="1.4" fill="#fff"/><circle cx="24" cy="72.2" r="1.4" fill="#fff"/><circle cx="17.6" cy="66.5" r="1.4" fill="#fff"/><circle cx="17.6" cy="77.9" r="1.4" fill="#fff"/></g>
<g stroke="#333" stroke-width="1.2" fill="none" stroke-linecap="round" stroke-linejoin="round"><path d="M17.7 93.7L22.9 99.4H20.2V104.4H15.3V99.4H12.6Z"/></g>
<g stroke="#333" stroke-width="1.2" fill="none" stroke-linecap="round" stroke-linejoin="round"><circle cx="17.4" cy="125.2" r="6.9"/></g><text x="17.4" y="128.6" font-size="9.5" font-weight="bold" fill="#333" text-anchor="middle">1</text>
<g stroke="#333" stroke-width="1.2" fill="none" stroke-linecap="round" stroke-linejoin="round"><line x1="11.6" y1="146.6" x2="11.6" y2="157.4"/><line x1="23.2" y1="147.6" x2="23.2" y2="158.6"/><line x1="12" y1="152" x2="21" y2="152"/><path d="M19.4 150.2L21.4 152L19.4 153.8"/><circle cx="11.6" cy="158.4" r="1.4" fill="#fff"/><circle cx="23.2" cy="146.4" r="1.4" fill="#fff"/></g>
<g stroke="#222" stroke-width="1.3" fill="none"><path d="M10.4 193V185.4A7 7 0 0 1 24.4 185.4V193H20.6V185.6A3.2 3.2 0 0 0 14.2 185.6V193Z"/><line x1="10.4" y1="189.8" x2="14.2" y2="189.8"/><line x1="20.6" y1="189.8" x2="24.4" y2="189.8"/></g>
<g stroke="#222" stroke-width="1.4" fill="none"><rect x="10.8" y="211.6" width="13.4" height="7.6"/><path d="M13.4 211.4V209A3.6 3.6 0 0 1 20.6 208"/></g>
<g stroke="#c6c6c6" stroke-width="1.89" fill="none" stroke-linecap="round" stroke-linejoin="round"><g transform="translate(10.69,231.23) scale(0.66)"><polyline points="1 4 1 10 7 10"/><path d="M3.51 15a9 9 0 1 0 2.13-9.36L1 10"/></g><g transform="translate(9.77,258.23) scale(0.66)"><polyline points="23 4 23 10 17 10"/><path d="M20.49 15a9 9 0 1 1-2.12-9.36L23 10"/></g></g>
<g stroke="#222" stroke-width="1.4" fill="none" stroke-linejoin="round"><path d="M11.2 295.2H24M14.8 295Q14.8 292.6 16.4 292.6H18.8Q20.4 292.6 20.4 295M12.8 295.4V304.8Q12.8 306.2 14.2 306.2H21Q22.4 306.2 22.4 304.8V295.4"/></g>
<g stroke="#222" stroke-width="1.3" fill="none" stroke-linecap="round"><circle cx="16.9" cy="326.1" r="5.1"/><line x1="20.8" y1="330" x2="24.2" y2="333"/><line x1="14.8" y1="326.1" x2="19" y2="326.1"/><line x1="16.9" y1="324" x2="16.9" y2="328.2"/><circle cx="16.9" cy="352.7" r="5.1"/><line x1="20.8" y1="356.6" x2="24.2" y2="359.6"/><line x1="14.8" y1="352.7" x2="19" y2="352.7"/></g>
<path d="M16.6 383L13.2 386.8L16.6 390.6M21.6 383L18.2 386.8L21.6 390.6" stroke="#222" stroke-width="1.3" fill="none"/>
</svg>
</body></html>
